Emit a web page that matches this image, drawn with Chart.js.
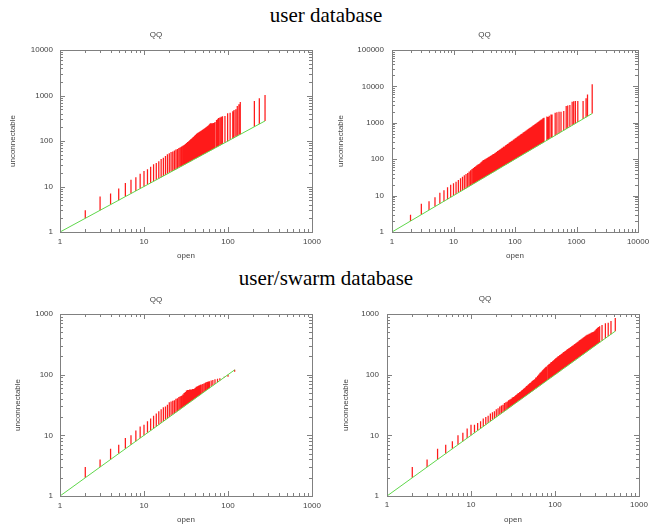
<!DOCTYPE html>
<html>
<head>
<meta charset="utf-8">
<script src="https://cdn.jsdelivr.net/npm/chart.js@4.4.1/dist/chart.umd.min.js"></script>
<style>
  body { margin: 0; background: #fff; width: 662px; height: 525px; position: relative; overflow: hidden; }
  .heading { position: absolute; left: 0; width: 652px; text-align: center; line-height: 24px;
             font-family: "Liberation Serif", "Times New Roman", serif; font-size: 21px; color: #000; }
  canvas { position: absolute; }
</style>
</head>
<body>
<div class="heading" style="top:2.6px">user database</div>
<div class="heading" style="top:265.6px">user/swarm database</div>
<canvas id="tl" width="331" height="240" style="left:0;top:25px"></canvas>
<canvas id="tr" width="331" height="240" style="left:331px;top:25px"></canvas>
<canvas id="bl" width="331" height="236" style="left:0;top:289px"></canvas>
<canvas id="br" width="331" height="236" style="left:331px;top:289px"></canvas>
<script>
// user database, left panel
const tlOpen = [2,3,4,5,6,7,8,9,10,11,12,13,14,15,16,17,18,19,20,21,22,23,24,25,26,27,28,29,
  30,31,32,33,34,35,36,37,38,39,40,41,42,43,44,45,46,47,48,49,50,51,52,53,54,55,56,57,58,59,
  60,61,62,63,64,65,66,67,68,70,73,75,77,80,83,86,92,99,106,114,118,124,129,135,140,206,236,276];
const tlUnconn = [3,6,7,9,12,14,16,19,22,24,27,31,33,36,40,43,47,51,54,57,59,62,65,67,70,73,76,79,
  82,86,90,95,99,104,109,114,119,124,130,136,142,148,152,156,160,164,168,172,176,181,186,191,196,201,206,211,216,223,
  230,240,245,245,246,246,247,248,250,260,290,300,320,330,340,350,355,405,420,450,480,500,590,640,720,760,870,1025];
const tlXTicks = [1, 10, 100, 1000];
const tlYTicks = [1, 10, 100, 1000, 10000];

// user database, right panel
const trOpen = [2,3,4,5,6,7,8,9,10,11,12,13,14,15,16,17,18,19,20,21,22,23,24,25,26,27,28,29,30,
  31,32,33,34,35,36,37,38,39,40,41,42,43,44,
  45,47,48,50,52,54,56,58,60,62,65,67,70,72,75,78,81,84,87,90,94,97,101,105,109,113,117,122,126,131,
  136,141,146,152,158,164,170,176,183,190,197,204,212,220,228,237,246,255,265,275,285,296,
  330,345,360,385,400,450,480,520,560,620,680,720,780,850,900,960,1050,1280,1430,1510,1800];
const trUnconn = [3,6,7,9,12,14,17,20,22,24,27,30,33,36,39,42,46,50,54,57,61,64,68,71,74,78,82,86,92,
  95,98,100,104,107,110,113,116,119,123,126,129,132,136,
  139,146,151,157,167,173,183,189,198,205,219,225,239,246,260,271,286,296,312,322,343,353,374,388,411,425,447,466,490,510,
  538,558,586,612,646,672,706,732,772,804,843,876,922,960,1008,1050,1106,1148,1212,1260,1324,1380,
  1500,1450,1550,1700,1700,1900,1950,2000,2000,2100,2900,3000,3100,3800,3900,3950,4000,4000,4700,6000,11400];
const trXTicks = [1, 10, 100, 1000, 10000];
const trYTicks = [1, 10, 100, 1000, 10000, 100000];

// user/swarm database, left panel
const blOpen = [2,3,4,5,6,7,8,9,10,11,12,13,14,15,16,17,18,19,20,21,22,23,24,25,26,27,28,29,30,
  31,32,33,34,35,36,37,38,39,40,41,42,43,44,45,46,47,48,50,52,54,56,58,60,63,66,70,75,80,90,100,120];
const blUnconn = [3,4,6,7,9,10,12,14,15,17,19,21,23,25,27,29,30,32,35,36,37,38,40,41,43,44,45,47,50,
  52,55,56,56,57,57,57,58,58,59,61,63,64,65,66,67,68,69,70,72,74,76,77,78,80,82,84,86,87,92,92,112];
const blXTicks = [1, 10, 100, 1000];
const blYTicks = [1, 10, 100, 1000];

// user/swarm database, right panel
const brOpen = [2,3,4,5,6,7,8,9,10,11,12,13,14,15,16,17,18,19,20,21,22,23,24,25,26,27,28,29,30,
  31,32,33,34,35,36,37,38,39,40,41,42,43,44,45,46,47,48,49,50,51,52,53,54,55,56,
  57,59,60,62,64,66,67,69,71,73,75,77,79,82,84,86,89,91,94,96,99,102,105,108,111,114,117,120,124,127,
  131,134,138,142,146,150,154,159,163,168,172,177,182,187,193,198,204,210,216,222,228,234,241,248,255,
  262,269,277,285,293,301,310,319,328,340,363,398,430,464,522];
const brUnconn = [3,4,6,7,8,10,11,13,15,15,16,17,19,20,21,23,24,25,27,28,30,31,32,34,35,36,38,39,40,
  42,43,44,46,47,49,50,52,53,55,56,58,60,61,63,65,66,68,70,72,73,75,77,79,81,82,
  84,89,91,96,101,106,109,113,118,123,128,132,136,143,147,151,158,162,168,173,179,186,192,199,204,211,216,222,229,236,
  244,249,257,264,272,279,286,296,303,311,320,331,340,350,363,372,384,395,406,417,429,442,453,461,472,
  479,490,499,507,522,542,564,587,610,630,660,702,720,765,860];
const brXTicks = [1, 10, 100, 1000];
const brYTicks = [1, 10, 100, 1000];

Chart.defaults.font.family = '"Liberation Sans", Arial, sans-serif';
Chart.defaults.font.size = 8;
Chart.defaults.color = '#444';

// gnuplot style frame with inward major/minor ticks on all four sides
const frameTicks = {
  id: 'frameTicks',
  afterDatasetsDraw(chart) {
    const {ctx, chartArea: a, scales: {x, y}} = chart;
    ctx.save();
    ctx.strokeStyle = '#808080';
    ctx.lineWidth = 1;
    ctx.beginPath();
    for (let d = x.min; d < x.max; d *= 10) {
      for (let m = 1; m <= 10; m++) {
        const px = Math.round(x.getPixelForValue(d * m)) + 0.5;
        const len = (m === 1 || m === 10) ? 5 : 3;
        ctx.moveTo(px, a.bottom); ctx.lineTo(px, a.bottom - len);
        ctx.moveTo(px, a.top); ctx.lineTo(px, a.top + len);
      }
    }
    for (let d = y.min; d < y.max; d *= 10) {
      for (let m = 1; m <= 10; m++) {
        const py = Math.round(y.getPixelForValue(d * m)) + 0.5;
        const len = (m === 1 || m === 10) ? 5 : 3;
        ctx.moveTo(a.left, py); ctx.lineTo(a.left + len, py);
        ctx.moveTo(a.right, py); ctx.lineTo(a.right - len, py);
      }
    }
    ctx.stroke();
    ctx.strokeRect(Math.round(a.left) + 0.5, Math.round(a.top) + 0.5,
      Math.round(a.right - a.left), Math.round(a.bottom - a.top));
    ctx.restore();
  }
};

function impulses(xs, ys) {
  const pts = [];
  xs.forEach((v, i) => { pts.push({x: v, y: v}, {x: v, y: ys[i]}, {x: v, y: null}); });
  return pts;
}

function makePanel(id, open, unconn, xTicks, yTicks, lay) {
  const top = Math.max(...open);
  new Chart(document.getElementById(id), {
    type: 'line',
    data: {
      datasets: [
        { data: [{x: 1, y: 1}, {x: top, y: top}], borderColor: 'rgb(95,215,75)', borderWidth: 1,
          pointRadius: 0, order: 0 },
        { data: impulses(open, unconn), borderColor: '#ff1a1a', borderWidth: 1.25,
          pointRadius: 0, spanGaps: false, order: 1 }
      ]
    },
    options: {
      responsive: false,
      animation: false,
      devicePixelRatio: 1,
      layout: { padding: { left: 0, right: lay.right, top: 0, bottom: lay.bottom } },
      plugins: {
        legend: { display: false },
        tooltip: { enabled: false },
        title: { display: true, text: 'QQ', color: '#444', font: { size: 8, weight: 'normal' },
                 padding: { top: lay.qqTop, bottom: 25 - 9.6 - lay.qqTop } }
      },
      scales: {
        x: {
          type: 'logarithmic', min: xTicks[0], max: xTicks[xTicks.length - 1],
          grid: { display: false, drawTicks: false }, border: { display: false },
          afterBuildTicks: s => { s.ticks = xTicks.map(v => ({value: v})); },
          afterFit: s => { s.height = lay.xh; },
          ticks: { padding: lay.xtp, maxRotation: 0, autoSkip: false, callback: v => String(v) },
          title: { display: true, text: 'open', color: '#444', padding: { top: 0, bottom: lay.xtitle } }
        },
        y: {
          type: 'logarithmic', min: yTicks[0], max: yTicks[yTicks.length - 1],
          grid: { display: false, drawTicks: false }, border: { display: false },
          afterBuildTicks: s => { s.ticks = yTicks.map(v => ({value: v})); },
          afterFit: s => { s.width = lay.yw; },
          ticks: { padding: lay.ytp, autoSkip: false, callback: v => String(v) },
          title: { display: true, text: 'unconnectable', color: '#444', padding: { top: lay.ytitle, bottom: 0 } }
        }
      }
    },
    plugins: [frameTicks]
  });
}

makePanel('tl', tlOpen, tlUnconn, tlXTicks, tlYTicks,
  { right: 19, bottom: 4, yw: 60, xh: 29, qqTop: 4.9, xtp: 5, ytp: 7, xtitle: 0.2, ytitle: 8 });
makePanel('tr', trOpen, trUnconn, trXTicks, trYTicks,
  { right: 24, bottom: 4, yw: 61, xh: 29, qqTop: 4.5, xtp: 5, ytp: 8, xtitle: 0.2, ytitle: 5.2 });
makePanel('bl', blOpen, blUnconn, blXTicks, blYTicks,
  { right: 19, bottom: 0, yw: 60, xh: 29, qqTop: 5.7, xtp: 4.5, ytp: 7, xtitle: 0.5, ytitle: 13.2 });
makePanel('br', brOpen, brUnconn, brXTicks, brYTicks,
  { right: 23, bottom: 0, yw: 56, xh: 29, qqTop: 4.9, xtp: 4, ytp: 8, xtitle: 0.9, ytitle: 10.2 });
</script>
</body>
</html>
